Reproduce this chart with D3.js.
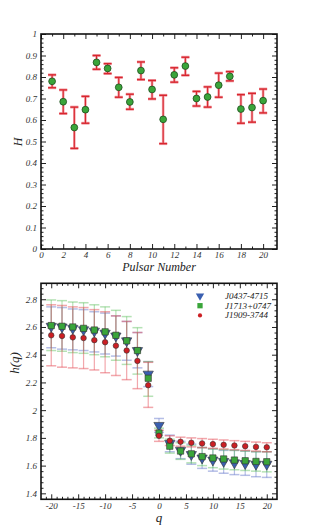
<!DOCTYPE html>
<html>
<head>
<meta charset="utf-8">
<script src="https://cdn.jsdelivr.net/npm/d3@7"></script>
<style>
  body { margin: 0; background: #fff; }
  svg text { font-family: "Liberation Serif", "DejaVu Serif", serif; font-style: italic; }
</style>
</head>
<body>
<svg id="chart" width="316" height="530"></svg>
<script>
// ---- top panel: Hurst exponent per pulsar
var pulsarNo = d3.range(1, 21);
var hurst    = [0.780, 0.685, 0.565, 0.648, 0.868, 0.840, 0.752, 0.684, 0.830, 0.742,
                0.603, 0.810, 0.851, 0.700, 0.707, 0.762, 0.803, 0.651, 0.658, 0.690];
var hurstLo  = [0.750, 0.630, 0.468, 0.585, 0.836, 0.816, 0.706, 0.650, 0.788, 0.698,
                0.490, 0.776, 0.808, 0.665, 0.660, 0.706, 0.782, 0.585, 0.590, 0.633];
var hurstHi  = [0.810, 0.740, 0.660, 0.710, 0.900, 0.862, 0.798, 0.720, 0.870, 0.784,
                0.715, 0.843, 0.892, 0.733, 0.754, 0.818, 0.825, 0.718, 0.724, 0.744];

// ---- bottom panel: generalized Hurst exponent h(q)
var qVals = d3.range(-20, 21, 2);
var seriesNames = ["J0437-4715", "J1713+0747", "J1909-3744"];
var hJ0437   = [2.605, 2.600, 2.590, 2.580, 2.570, 2.555, 2.535, 2.500, 2.430, 2.260, 1.890,
                1.760, 1.710, 1.680, 1.655, 1.640, 1.630, 1.620, 1.615, 1.610, 1.610];
var hJ0437Lo = [2.450, 2.440, 2.435, 2.430, 2.420, 2.405, 2.390, 2.360, 2.305, 2.170, 1.840,
                1.700, 1.650, 1.610, 1.580, 1.560, 1.545, 1.535, 1.530, 1.520, 1.515];
var hJ0437Hi = [2.745, 2.740, 2.730, 2.725, 2.710, 2.700, 2.680, 2.640, 2.560, 2.350, 1.940,
                1.820, 1.775, 1.755, 1.730, 1.720, 1.710, 1.710, 1.705, 1.700, 1.700];
var hJ1713   = [2.610, 2.605, 2.600, 2.590, 2.578, 2.565, 2.540, 2.500, 2.430, 2.230, 1.835,
                1.740, 1.705, 1.685, 1.665, 1.655, 1.648, 1.640, 1.635, 1.630, 1.628];
var hJ1713Lo = [2.430, 2.425, 2.415, 2.410, 2.400, 2.385, 2.360, 2.330, 2.260, 2.100, 1.800,
                1.690, 1.645, 1.620, 1.600, 1.585, 1.575, 1.570, 1.565, 1.560, 1.555];
var hJ1713Hi = [2.795, 2.790, 2.780, 2.775, 2.760, 2.745, 2.720, 2.675, 2.595, 2.350, 1.870,
                1.790, 1.765, 1.745, 1.730, 1.720, 1.715, 1.710, 1.705, 1.700, 1.700];
var hJ1909   = [2.540, 2.535, 2.525, 2.520, 2.505, 2.490, 2.465, 2.430, 2.355, 2.180, 1.815,
                1.780, 1.772, 1.765, 1.760, 1.755, 1.750, 1.745, 1.740, 1.735, 1.732];
var hJ1909Lo = [2.320, 2.310, 2.305, 2.300, 2.290, 2.270, 2.250, 2.220, 2.155, 2.020, 1.775,
                1.745, 1.740, 1.735, 1.730, 1.725, 1.720, 1.715, 1.710, 1.705, 1.700];
var hJ1909Hi = [2.760, 2.755, 2.745, 2.740, 2.725, 2.710, 2.680, 2.640, 2.560, 2.345, 1.855,
                1.815, 1.805, 1.800, 1.795, 1.790, 1.785, 1.780, 1.775, 1.770, 1.765];

var topXTicks = d3.range(0, 21, 2);
var topYTicks = d3.range(0, 11).map(function(i){ return i / 10; });
var botXTicks = d3.range(-20, 21, 5);
var botYTicks = [1.4, 1.6, 1.8, 2, 2.2, 2.4, 2.6, 2.8];

var svg = d3.select("#chart");
var L = 41, R = 277;

// draws frame + inner ticks on all four sides
function frame(g, x, y, xMaj, xMin, yMaj, yMin, xFmt, yFmt) {
  var x0 = x.range()[0], x1 = x.range()[1], y0 = y.range()[0], y1 = y.range()[1];
  g.append("g").attr("transform", "translate(0," + y0 + ")")
    .call(d3.axisBottom(x).tickValues(xMaj).tickSizeInner(-5).tickSizeOuter(0).tickPadding(3).tickFormat(xFmt));
  g.append("g").attr("transform", "translate(0," + y1 + ")")
    .call(d3.axisTop(x).tickValues(xMaj).tickSizeInner(-5).tickSizeOuter(0).tickFormat(""));
  g.append("g").attr("transform", "translate(" + x0 + ",0)")
    .call(d3.axisLeft(y).tickValues(yMaj).tickSizeInner(-5).tickSizeOuter(0).tickPadding(4).tickFormat(yFmt));
  g.append("g").attr("transform", "translate(" + x1 + ",0)")
    .call(d3.axisRight(y).tickValues(yMaj).tickSizeInner(-5).tickSizeOuter(0).tickFormat(""));
  // minor ticks
  g.append("g").attr("transform", "translate(0," + y0 + ")")
    .call(d3.axisBottom(x).tickValues(xMin).tickSizeInner(-2.5).tickSizeOuter(0).tickFormat(""));
  g.append("g").attr("transform", "translate(0," + y1 + ")")
    .call(d3.axisTop(x).tickValues(xMin).tickSizeInner(-2.5).tickSizeOuter(0).tickFormat(""));
  g.append("g").attr("transform", "translate(" + x0 + ",0)")
    .call(d3.axisLeft(y).tickValues(yMin).tickSizeInner(-2.5).tickSizeOuter(0).tickFormat(""));
  g.append("g").attr("transform", "translate(" + x1 + ",0)")
    .call(d3.axisRight(y).tickValues(yMin).tickSizeInner(-2.5).tickSizeOuter(0).tickFormat(""));
  g.selectAll(".domain").remove();
  g.selectAll(".tick line").attr("stroke", "#222").attr("stroke-width", 1);
  g.selectAll(".tick text").attr("font-size", 9).attr("fill", "#333")
    .attr("font-family", "Liberation Serif").attr("font-style", "italic");
  g.append("rect").attr("x", x0).attr("y", y1).attr("width", x1 - x0).attr("height", y0 - y1)
    .attr("fill", "none").attr("stroke", "#111").attr("stroke-width", 1.6);
}

// ---------- top panel
var xTop = d3.scaleLinear().domain([0, 21.25]).range([L, R]);
var yTop = d3.scaleLinear().domain([0, 1]).range([249, 34]);
var gTop = svg.append("g");

var topPts = pulsarNo.map(function(n, i){ return {n: n, h: hurst[i], lo: hurstLo[i], hi: hurstHi[i]}; });
var eb = gTop.selectAll("g.eb").data(topPts).enter().append("g").attr("class", "eb");
[["#f2a0a8", 2.6], ["#d8262e", 1.1]].forEach(function(s){
  eb.append("line")
    .attr("x1", function(d){ return xTop(d.n); }).attr("x2", function(d){ return xTop(d.n); })
    .attr("y1", function(d){ return yTop(d.lo); }).attr("y2", function(d){ return yTop(d.hi); })
    .attr("stroke", s[0]).attr("stroke-width", s[1]);
  ["lo", "hi"].forEach(function(k){
    eb.append("line")
      .attr("x1", function(d){ return xTop(d.n) - 4; }).attr("x2", function(d){ return xTop(d.n) + 4; })
      .attr("y1", function(d){ return yTop(d[k]); }).attr("y2", function(d){ return yTop(d[k]); })
      .attr("stroke", s[0]).attr("stroke-width", s[1] + 0.3);
  });
});
gTop.selectAll("circle.pt").data(topPts).enter().append("circle").attr("class", "pt")
  .attr("cx", function(d){ return xTop(d.n); }).attr("cy", function(d){ return yTop(d.h); })
  .attr("r", 3.4).attr("fill", "#3aa53a").attr("stroke", "#1d4d1d").attr("stroke-width", 0.8);

frame(gTop, xTop, yTop, topXTicks, d3.range(1, 21, 2),
      topYTicks, d3.range(0, 51).map(function(i){ return i / 50; }).filter(function(v, i){ return i % 5; }),
      d3.format("d"), function(d){ return d === 0 ? "0" : d === 1 ? "1" : d3.format(".1f")(d); });

svg.append("text").attr("x", 159).attr("y", 271).attr("text-anchor", "middle")
  .attr("font-size", 12).attr("fill", "#222").text("Pulsar Number");
svg.append("text").attr("transform", "translate(22,142) rotate(-90)").attr("text-anchor", "middle")
  .attr("font-size", 12).attr("fill", "#222").text("H");

// ---------- bottom panel
var xBot = d3.scaleLinear().domain([-21.9, 21.9]).range([L, R]);
var yBot = d3.scaleLinear().domain([1.357, 2.915]).range([499.3, 283.3]);
var gBot = svg.append("g");

var series = [
  {name: seriesNames[0], h: hJ0437, lo: hJ0437Lo, hi: hJ0437Hi, col: "#3a5fb0", bar: "rgba(90,110,200,0.45)", sym: d3.symbolTriangle, size: 46, lsize: 30, rot: 180},
  {name: seriesNames[1], h: hJ1713, lo: hJ1713Lo, hi: hJ1713Hi, col: "#3aa53a", bar: "rgba(90,190,90,0.45)", sym: d3.symbolSquare, size: 40, lsize: 28, rot: 0},
  {name: seriesNames[2], h: hJ1909, lo: hJ1909Lo, hi: hJ1909Hi, col: "#cc1f24", bar: "rgba(230,80,90,0.5)", sym: d3.symbolCircle, size: 24, lsize: 14, rot: 0}
];

series.forEach(function(s){
  var pts = qVals.map(function(q, i){ return {q: q, h: s.h[i], lo: s.lo[i], hi: s.hi[i]}; });
  var g = gBot.append("g");
  g.selectAll("line.v").data(pts).enter().append("line").attr("class", "v")
    .attr("x1", function(d){ return xBot(d.q); }).attr("x2", function(d){ return xBot(d.q); })
    .attr("y1", function(d){ return yBot(d.lo); }).attr("y2", function(d){ return yBot(d.hi); })
    .attr("stroke", s.bar).attr("stroke-width", 1.2);
  ["lo", "hi"].forEach(function(k){
    g.selectAll("line.c" + k).data(pts).enter().append("line").attr("class", "c" + k)
      .attr("x1", function(d){ return xBot(d.q) - 5; }).attr("x2", function(d){ return xBot(d.q) + 5; })
      .attr("y1", function(d){ return yBot(d[k]); }).attr("y2", function(d){ return yBot(d[k]); })
      .attr("stroke", s.bar).attr("stroke-width", 1.5);
  });
  s.pts = pts;
});
series.forEach(function(s){
  gBot.append("g").selectAll("path").data(s.pts).enter().append("path")
    .attr("d", d3.symbol().type(s.sym).size(s.size))
    .attr("transform", function(d){ return "translate(" + xBot(d.q) + "," + yBot(d.h) + ") rotate(" + s.rot + ")"; })
    .attr("fill", s.col).attr("stroke", "#333").attr("stroke-width", 0.6);
});

frame(gBot, xBot, yBot, botXTicks, d3.range(-21, 22, 1).filter(function(v){ return v % 5; }),
      botYTicks, d3.range(34, 73).map(function(i){ return i / 25; }).filter(function(v, i){ return (i + 34) % 5; }),
      function(d){ return String(d); }, function(d){ return d3.format(".1f")(d).replace(/\.0$/, ""); });

// legend
var leg = svg.append("g").attr("transform", "translate(200,296)");
series.forEach(function(s, i){
  var row = leg.append("g").attr("transform", "translate(0," + (i * 9.7) + ")");
  row.append("path").attr("d", d3.symbol().type(s.sym).size(s.lsize))
    .attr("transform", "rotate(" + s.rot + ")").attr("fill", s.col).attr("stroke", "none");
  row.append("text").attr("x", 25).attr("y", 3).attr("font-size", 9).attr("fill", "#222").text(s.name);
});

svg.append("text").attr("x", 159).attr("y", 522).attr("text-anchor", "middle")
  .attr("font-size", 13).attr("fill", "#222").text("q");
svg.append("text").attr("transform", "translate(19,363) rotate(-90)").attr("text-anchor", "middle")
  .attr("font-size", 13).attr("fill", "#222").text("h(q)");
</script>
</body>
</html>
